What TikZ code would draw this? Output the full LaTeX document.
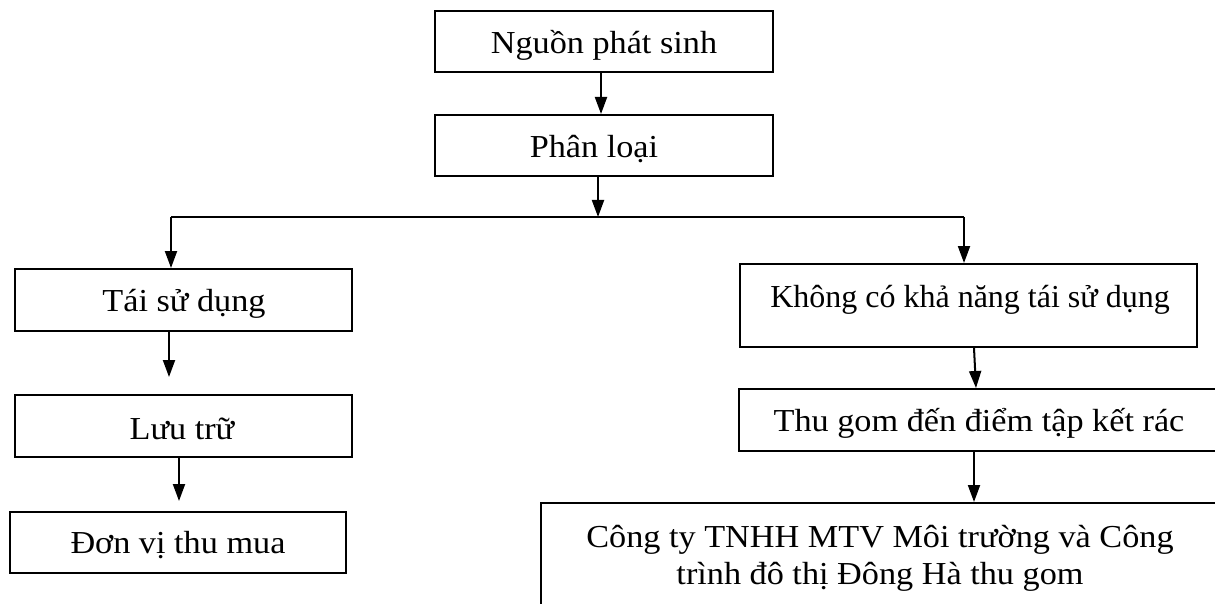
\documentclass[tikz,border=0pt]{standalone}
\usepackage{fontspec}
\setmainfont{Liberation Serif}[FakeStretch=1.07]
\newfontfamily\plainserif{Liberation Serif}
\usetikzlibrary{arrows.meta}

\begin{document}
\begin{tikzpicture}[x=1pt,y=-1pt,
  box/.style={draw, line width=2pt, inner sep=0pt},
  lbl/.style={inner sep=0pt, anchor=base, font=\fontsize{32}{38}\selectfont},
  arr/.style={line width=2pt, -{Triangle[width=12pt,length=17pt]}},
  link/.style={line width=2pt}]

% page frame
\path[use as bounding box, clip] (0,0) rectangle (1215,604);
\fill[white] (0,0) rectangle (1215,604);

% boxes
\node[box, minimum width=338pt, minimum height=61pt] (src) at (604,41.5) {};
\node[box, minimum width=338pt, minimum height=61pt] (cls) at (604,145.5) {};
\node[box, minimum width=337pt, minimum height=62pt] (reuse) at (183.5,300) {};
\node[box, minimum width=337pt, minimum height=62pt] (store) at (183.5,426) {};
\node[box, minimum width=336pt, minimum height=61pt] (buyer) at (178,542.5) {};
\node[box, minimum width=457pt, minimum height=83pt] (noreuse) at (968.5,305.5) {};
\node[box, minimum width=506pt, minimum height=62pt] (collect) at (992,420) {};
\node[box, minimum width=704pt, minimum height=147pt] (company) at (893,576.5) {};

% labels
\node[lbl] (tsrc) at (604,54) {Nguồn phát sinh};
\node[lbl] (tcls) at (594,158) {Phân loại};
\node[lbl] (treuse) at (184,311) {Tái sử dụng};
\node[lbl] (tstore) at (182,439) {Lưu trữ};
\node[lbl] (tbuyer) at (178,553) {Đơn vị thu mua};
\node[lbl, font=\fontsize{32}{38}\selectfont\plainserif] (tnoreuse) at (970,307) {Không có khả năng tái sử dụng};
\node[lbl] (tcollect) at (979,431) {Thu gom đến điểm tập kết rác};
\node[lbl] (tcompany1) at (880,547) {Công ty TNHH MTV Môi trường và Công};
\node[lbl] (tcompany2) at (880,584) {trình đô thị Đông Hà thu gom};

% split line
\coordinate (jmid) at (598,217);
\coordinate (jl) at (171,217);
\coordinate (jr) at (964,217);

% connectors
\draw[arr] ([xshift=-3pt]src.south) -- ([xshift=-3pt]cls.north);
\draw[arr] ([xshift=-6pt]cls.south) -- (jmid);
\draw[link] (jl) -- (jr);
\draw[arr] (jl) -- (jl |- reuse.north);
\draw[arr] (jr) -- (jr |- noreuse.north);
\draw[arr, shorten >=17pt] ([xshift=-14.5pt]reuse.south) -- ([xshift=-14.5pt]store.north);
\draw[arr, shorten >=10pt] ([xshift=-4.5pt]store.south) -- ([xshift=1pt]buyer.north);
\draw[arr] ([xshift=5.5pt]noreuse.south) -- ([xshift=-16pt]collect.north);
\draw[arr] ([xshift=-18pt]collect.south) -- ([xshift=81pt]company.north);
\end{tikzpicture}
\end{document}
